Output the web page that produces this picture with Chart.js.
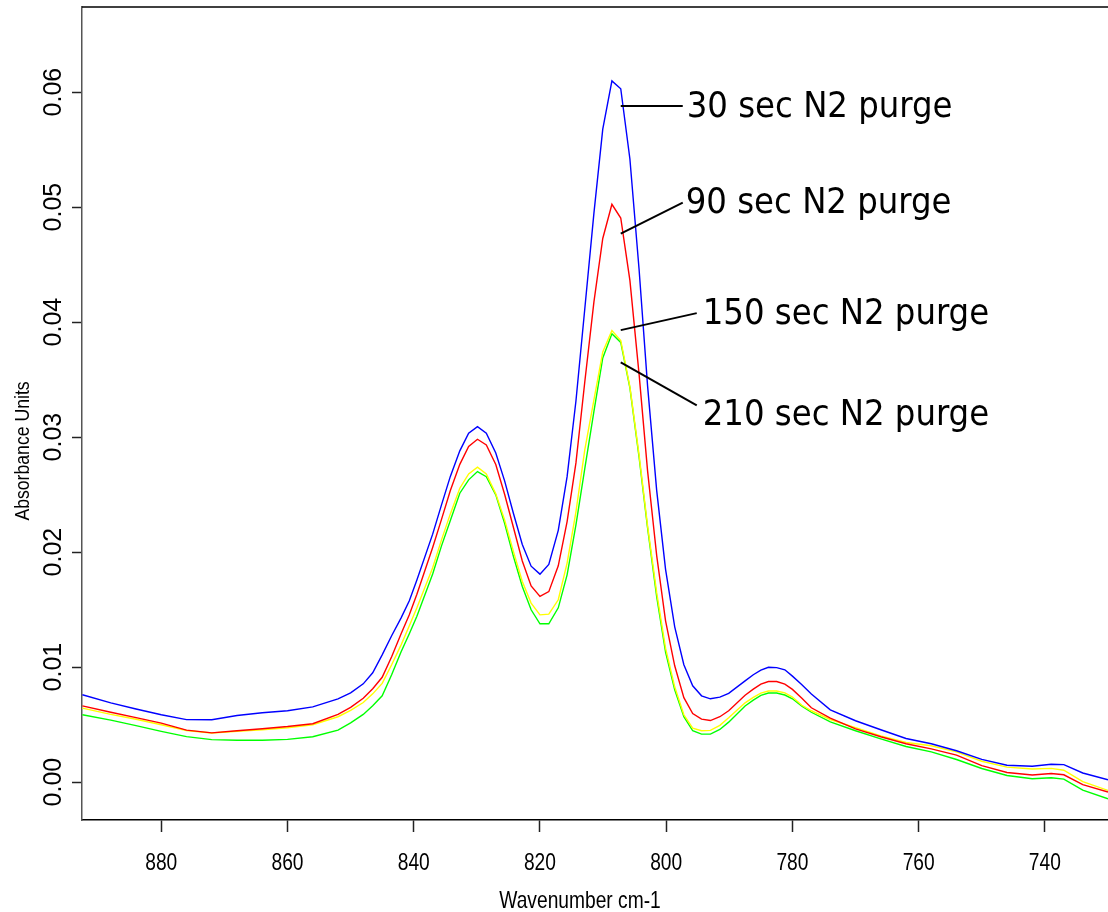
<!DOCTYPE html>
<html>
<head>
<meta charset="utf-8">
<title>IR absorbance after N2 purge</title>
<script src="https://cdn.jsdelivr.net/npm/chart.js@4.4.0/dist/chart.umd.min.js"></script>
<style>
  html, body { margin: 0; padding: 0; background: #fff; }
</style>
</head>
<body>
<canvas id="spectrum" width="1108" height="912"></canvas>
<script>
// sampled wavenumbers (cm-1), denser around the peaks and bends
const wavenumbers = [
  892.5, 888, 884, 880, 876, 872, 868, 864, 860, 856, 852, 850, 848, 846.5, 845, 843.5, 842, 840.7, 839.5, 837,
  835.6, 834.2, 832.7, 831.3, 829.9, 828.5, 827.0, 825.6, 824.2, 822.8, 821.4, 820.0,
  818.6, 817.1, 815.7, 814.3, 812.9, 811.45, 810.05, 808.6, 807.2, 805.75, 804.3, 802.95,
  801.5, 800.1, 798.65, 797.2, 795.8, 794.4, 793.0, 791.5, 790.1, 787.5, 786.2, 785, 783.8, 782.5, 781.2,
  780, 778.5, 777, 774, 770, 766, 762, 758, 754, 750, 746, 742, 739, 737, 734, 730
];

const purge30 = [
  0.00759, 0.00689, 0.00635, 0.00585, 0.00543, 0.00542, 0.00579, 0.00603, 0.00620, 0.00654, 0.00724, 0.00776, 0.00854, 0.00950, 0.01106, 0.01272, 0.01428, 0.01576, 0.01758, 0.02156,
  0.02410, 0.02658, 0.02880, 0.03033, 0.03091, 0.03034, 0.02862, 0.02619, 0.02335, 0.02066, 0.01877, 0.01808,
  0.01892, 0.02189, 0.02656, 0.03314, 0.04114, 0.04948, 0.05678, 0.06097, 0.06029, 0.05418, 0.04462, 0.03445,
  0.02532, 0.01850, 0.01350, 0.01020, 0.00837, 0.00750, 0.00724, 0.00738, 0.00771, 0.00880, 0.00933, 0.00973, 0.00998, 0.00995, 0.00976,
  0.00921, 0.00846, 0.00765, 0.00628, 0.00533, 0.00455, 0.00379, 0.00333, 0.00272, 0.00197, 0.00146, 0.00137, 0.00155, 0.00152, 0.00079, 0.00020
];

const purge90 = [
  0.00663, 0.00607, 0.00560, 0.00512, 0.00452, 0.00428, 0.00446, 0.00464, 0.00483, 0.00507, 0.00588, 0.00650, 0.00729, 0.00811, 0.00911, 0.01089, 0.01289, 0.01454, 0.01633, 0.02040,
  0.02284, 0.02535, 0.02763, 0.02918, 0.02981, 0.02932, 0.02762, 0.02503, 0.02214, 0.01923, 0.01706, 0.01614,
  0.01656, 0.01880, 0.02265, 0.02775, 0.03479, 0.04175, 0.04727, 0.05024, 0.04905, 0.04362, 0.03549, 0.02706,
  0.01967, 0.01402, 0.01011, 0.00734, 0.00596, 0.00547, 0.00535, 0.00568, 0.00620, 0.00755, 0.00808, 0.00852, 0.00874, 0.00874, 0.00851,
  0.00806, 0.00728, 0.00646, 0.00555, 0.00463, 0.00394, 0.00333, 0.00288, 0.00234, 0.00143, 0.00083, 0.00061, 0.00074, 0.00063, -0.00023, -0.00087
];

const purge150 = [
  0.00643, 0.00589, 0.00546, 0.00498, 0.00448, 0.00427, 0.00442, 0.00455, 0.00472, 0.00498, 0.00568, 0.00624, 0.00692, 0.00767, 0.00858, 0.01020, 0.01193, 0.01359, 0.01515, 0.01863,
  0.02106, 0.02332, 0.02555, 0.02680, 0.02738, 0.02680, 0.02506, 0.02280, 0.02004, 0.01744, 0.01556, 0.01454,
  0.01460, 0.01585, 0.01904, 0.02349, 0.02888, 0.03323, 0.03740, 0.03926, 0.03840, 0.03436, 0.02845, 0.02228,
  0.01645, 0.01164, 0.00828, 0.00585, 0.00468, 0.00446, 0.00449, 0.00493, 0.00559, 0.00689, 0.00736, 0.00774, 0.00792, 0.00792, 0.00776,
  0.00739, 0.00668, 0.00620, 0.00544, 0.00472, 0.00402, 0.00344, 0.00316, 0.00263, 0.00181, 0.00130, 0.00114, 0.00119, 0.00103, 0.00003, -0.00073
];

const purge210 = [
  0.00585, 0.00539, 0.00491, 0.00441, 0.00395, 0.00369, 0.00363, 0.00364, 0.00371, 0.00394, 0.00452, 0.00515, 0.00588, 0.00663, 0.00750, 0.00933, 0.01133, 0.01289, 0.01441, 0.01809,
  0.02054, 0.02274, 0.02512, 0.02628, 0.02700, 0.02656, 0.02497, 0.02251, 0.01961, 0.01700, 0.01498, 0.01376,
  0.01376, 0.01515, 0.01802, 0.02236, 0.02726, 0.03223, 0.03688, 0.03898, 0.03823, 0.03427, 0.02827, 0.02210,
  0.01611, 0.01130, 0.00802, 0.00568, 0.00446, 0.00417, 0.00417, 0.00457, 0.00521, 0.00661, 0.00713, 0.00754, 0.00774, 0.00774, 0.00757,
  0.00724, 0.00659, 0.00607, 0.00524, 0.00446, 0.00376, 0.00309, 0.00263, 0.00196, 0.00118, 0.00057, 0.00029, 0.00037, 0.00025, -0.00070, -0.00145
];

const seriesNames = ['30 sec N2 purge', '90 sec N2 purge', '150 sec N2 purge', '210 sec N2 purge'];
const seriesColors = ['#0000ff', '#ff0000', '#ffff00', '#00ff00'];
const seriesValues = [purge30, purge90, purge150, purge210];

// where each callout's leader line touches its curve
const calloutWavenumber = [807.2, 807.2, 807.2, 807.2];
const calloutValue = [0.0588, 0.0477, 0.0393, 0.0365];

const xRange = [730, 892.56];
const yRange = [-0.0033, 0.0674];
const xTitle = 'Wavenumber cm-1';
const yTitle = 'Absorbance Units';

const plainFont = '"Liberation Sans", Arial, sans-serif';
const calloutFont = '"DejaVu Sans Condensed", "DejaVu Sans", Tahoma, sans-serif';

// leader end and text start, in px relative to the anchor on the curve
const calloutOffsets = [
  { line: [62, 0],   text: [66, 11] },
  { line: [62, -31], text: [65, -21] },
  { line: [76, -17], text: [82, -6] },
  { line: [76, 43],  text: [82, 63] }
];

// no narrow face is installed, so squeeze the regular one horizontally
function narrowText(ctx, text, x, y, size, squeeze, angle) {
  ctx.save();
  ctx.translate(x, y);
  if (angle) ctx.rotate(angle);
  ctx.scale(squeeze, 1);
  ctx.font = size + 'px ' + plainFont;
  ctx.textAlign = 'center';
  ctx.textBaseline = 'alphabetic';
  ctx.fillText(text, 0, 0);
  ctx.restore();
}

const decorPlugin = {
  id: 'decor',
  afterDraw(chart) {
    const { ctx, scales: { x, y } } = chart;
    ctx.save();

    // top edge of the frame
    ctx.strokeStyle = '#000';
    ctx.lineWidth = 1.5;
    ctx.beginPath();
    ctx.moveTo(x.left, y.top);
    ctx.lineTo(x.right, y.top);
    ctx.stroke();

    ctx.fillStyle = '#000';

    // x tick labels in a condensed face, below the tick marks
    x.ticks.forEach(t => {
      narrowText(ctx, String(t.value), x.getPixelForValue(t.value), x.top + 49.5, 24, 0.8);
    });
    narrowText(ctx, xTitle, (x.left + x.right) / 2 - 15, x.top + 88, 24, 0.8);
    // y title sits a bit below the middle of the axis
    narrowText(ctx, yTitle, 28.5, 451, 21, 0.84, -Math.PI / 2);

    ctx.font = '36px ' + calloutFont;
    ctx.textAlign = 'left';
    ctx.textBaseline = 'alphabetic';
    ctx.lineWidth = 2;
    seriesNames.forEach((name, i) => {
      const ax = x.getPixelForValue(calloutWavenumber[i]);
      const ay = y.getPixelForValue(calloutValue[i]);
      const off = calloutOffsets[i];
      ctx.beginPath();
      ctx.moveTo(ax, ay);
      ctx.lineTo(ax + off.line[0], ay + off.line[1]);
      ctx.stroke();
      ctx.fillText(name, ax + off.text[0], ay + off.text[1]);
    });
    ctx.restore();
  }
};

new Chart(document.getElementById('spectrum'), {
  type: 'line',
  data: {
    datasets: seriesValues.map((vals, i) => ({
      label: seriesNames[i],
      data: wavenumbers.map((w, k) => ({ x: w, y: vals[k] })),
      borderColor: seriesColors[i],
      backgroundColor: seriesColors[i],
      borderWidth: 1.4,
      pointRadius: 0,
      tension: 0,
      fill: false
    }))
  },
  options: {
    responsive: false,
    animation: false,
    layout: { padding: { top: 7, right: 0, bottom: 0, left: 0 } },
    plugins: {
      legend: { display: false },
      tooltip: { enabled: false }
    },
    scales: {
      x: {
        type: 'linear',
        reverse: true,
        min: xRange[0],
        max: xRange[1],
        afterFit(scale) {
          scale.height = 92;
          scale.paddingLeft = 0;
          scale.paddingRight = 0;
        },
        border: { display: true, color: '#000', width: 1.5 },
        grid: { drawOnChartArea: false, drawTicks: true, tickLength: 12, tickColor: '#222', tickWidth: 1.5 },
        ticks: {
          display: false,
          stepSize: 20,
          includeBounds: false,
          autoSkip: false
        }
      },
      y: {
        type: 'linear',
        min: yRange[0],
        max: yRange[1],
        afterFit(scale) {
          scale.width = 82;
          scale.paddingTop = 0;
          scale.paddingBottom = 0;
        },
        border: { display: true, color: '#555', width: 1.5 },
        grid: { drawOnChartArea: false, drawTicks: true, tickLength: 10, tickColor: '#222', tickWidth: 1.5 },
        ticks: {
          stepSize: 0.01,
          includeBounds: false,
          minRotation: 90,
          maxRotation: 90,
          crossAlign: 'center',
          padding: -6,
          color: '#000',
          font: { family: plainFont, size: 25 },
          callback: v => v.toFixed(2)
        }
      }
    }
  },
  plugins: [decorPlugin]
});
</script>
</body>
</html>
